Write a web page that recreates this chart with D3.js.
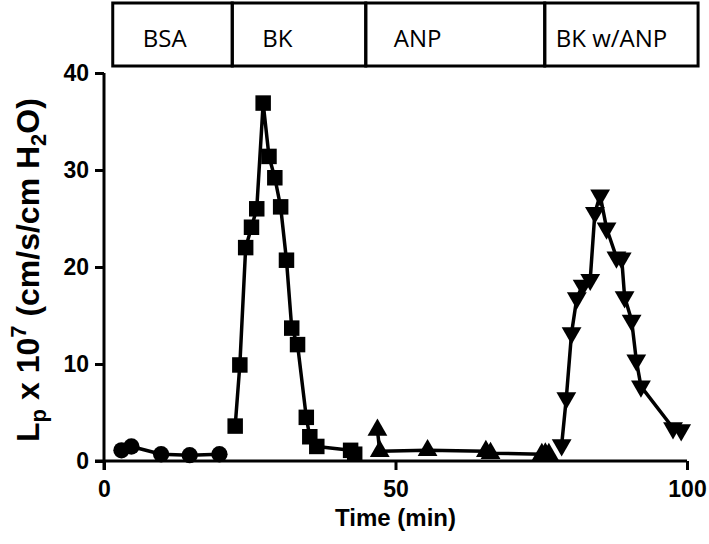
<!DOCTYPE html>
<html>
<head>
<meta charset="utf-8">
<script src="https://cdn.jsdelivr.net/npm/d3@7"></script>
<style>
  html, body { margin: 0; padding: 0; background: #fff; }
  svg { display: block; }
</style>
</head>
<body>
<svg id="chart" width="709" height="544"></svg>
<script>
// ---- data ----
const xTicks = [0, 50, 100];
const yTicks = [0, 10, 20, 30, 40];

const phaseLabels = ["BSA", "BK", "ANP", "BK w/ANP"];
const phaseBounds = [1.5, 22.0, 44.9, 75.6, 101.9];   // minutes

const bsaX = [3.0, 4.7, 9.8, 14.7, 19.8];
const bsaY = [1.1, 1.5, 0.7, 0.6, 0.7];

const bkX = [22.5, 23.3, 24.3, 25.3, 26.2, 27.3, 28.3, 29.3, 30.3, 31.3, 32.2, 33.2, 34.7, 35.3, 36.5, 42.3, 43.0];
const bkY = [3.6, 9.9, 22.0, 24.1, 26.0, 36.9, 31.4, 29.2, 26.2, 20.7, 13.7, 12.0, 4.5, 2.5, 1.5, 1.1, 0.7];

const anpX = [46.9, 47.3, 55.5, 65.5, 66.3, 75.1, 75.7, 76.3];
const anpY = [3.2, 1.0, 1.1, 1.0, 0.8, 0.7, 0.75, 0.7];

const bkAnpX = [78.5, 79.3, 80.2, 81.1, 82.1, 83.4, 84.2, 85.1, 86.2, 87.9, 88.8, 89.3, 90.5, 91.3, 92.1, 97.6, 99.0];
const bkAnpY = [1.65, 6.5, 13.2, 16.8, 18.1, 18.7, 25.6, 27.4, 24.0, 21.0, 20.9, 16.9, 14.5, 10.4, 7.7, 3.4, 3.2];

// ---- layout ----
const svg = d3.select("#chart");
const x = d3.scaleLinear().domain([0, 100]).range([104, 687]);
const y = d3.scaleLinear().domain([0, 40]).range([461, 73]);

const axisFont = "'Liberation Sans', Arial, sans-serif";

// header boxes
const boxTop = 3, boxBottom = 66;
const labelPad = [30, 30, 28, 11];
const header = svg.append("g");
phaseLabels.forEach((lab, i) => {
  const x0 = x(phaseBounds[i]), x1 = x(phaseBounds[i + 1]);
  header.append("rect")
    .attr("x", x0).attr("y", boxTop)
    .attr("width", x1 - x0).attr("height", boxBottom - boxTop)
    .attr("fill", "none").attr("stroke", "#000").attr("stroke-width", 3);
  header.append("text")
    .attr("x", x0 + labelPad[i]).attr("y", 47)
    .attr("font-family", "'Open Sans', sans-serif")
    .attr("font-size", 24)
    .attr("fill", "#000")
    .text(lab);
});

// axes
const xAxis = d3.axisBottom(x).tickValues(xTicks).tickSize(9).tickSizeOuter(0).tickPadding(11);
const yAxis = d3.axisLeft(y).tickValues(yTicks).tickSize(9).tickSizeOuter(0).tickPadding(6);

const gx = svg.append("g").attr("transform", `translate(0,${y(0)})`).call(xAxis);
const gy = svg.append("g").attr("transform", `translate(${x(0)},0)`).call(yAxis);

[gx, gy].forEach(g => {
  g.selectAll("path, line").attr("stroke", "#000").attr("stroke-width", 3);
  g.selectAll("text")
    .attr("font-family", axisFont)
    .attr("font-weight", "bold")
    .attr("font-size", 23)
    .attr("fill", "#000");
});
gx.select("path.domain").attr("d", `M${x(0) - 9},0H${x(100)}`);
gy.select("path.domain").attr("d", `M0,${y(40)}V${y(0) + 9}`);

// axis titles
svg.append("text")
  .attr("x", (x(0) + x(100)) / 2).attr("y", 526)
  .attr("text-anchor", "middle")
  .attr("font-family", axisFont).attr("font-weight", "bold").attr("font-size", 24)
  .text("Time (min)");

const yl = svg.append("text")
  .attr("transform", `translate(39,270) rotate(-90)`)
  .attr("text-anchor", "middle")
  .attr("font-family", axisFont).attr("font-weight", "bold").attr("font-size", 32);
yl.append("tspan").text("L");
yl.append("tspan").attr("font-size", 22).attr("dy", 7).text("p");
yl.append("tspan").attr("dy", -7).text(" x 10");
yl.append("tspan").attr("font-size", 22).attr("dy", -13).text("7");
yl.append("tspan").attr("dy", 13).text(" (cm/s/cm H");
yl.append("tspan").attr("font-size", 22).attr("dy", 7).text("2");
yl.append("tspan").attr("dy", -7).text("O)");

// series
const line = d3.line().x(d => x(d[0])).y(d => y(d[1]));
const series = [
  { xs: bsaX, ys: bsaY, sym: d3.symbolCircle, size: 210, rot: 0 },
  { xs: bkX, ys: bkY, sym: d3.symbolSquare, size: 240, rot: 0 },
  { xs: anpX, ys: anpY, sym: d3.symbolTriangle, size: 170, rot: 0 },
  { xs: bkAnpX, ys: bkAnpY, sym: d3.symbolTriangle, size: 170, rot: 180 }
];
series.forEach(s => {
  const pts = s.xs.map((v, i) => [v, s.ys[i]]);
  svg.append("path").datum(pts)
    .attr("d", line)
    .attr("fill", "none").attr("stroke", "#000").attr("stroke-width", 3.5)
    .attr("stroke-linejoin", "round");
  svg.append("g").selectAll("path").data(pts).join("path")
    .attr("d", d3.symbol().type(s.sym).size(s.size))
    .attr("transform", d => `translate(${x(d[0])},${y(d[1])}) rotate(${s.rot})`)
    .attr("fill", "#000");
});
</script>
</body>
</html>
